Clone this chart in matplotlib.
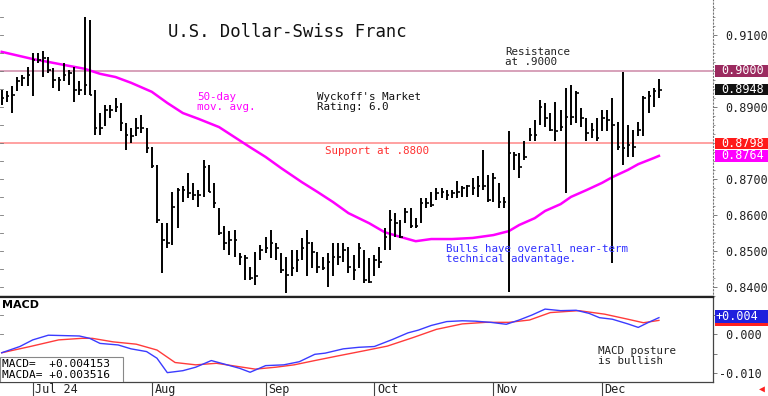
import matplotlib
matplotlib.use("Agg")
import matplotlib.pyplot as plt
import matplotlib.transforms as mtransforms
from matplotlib.patches import Rectangle
import numpy as np
import pandas as pd

plt.rcParams['font.family'] = ['DejaVu Sans Mono', 'DejaVu Sans']

# trading days shown on the chart
dates = pd.bdate_range("2024-06-21", "2024-12-17")

highs = [0.8947, 0.8943, 0.8957, 0.8984, 0.8989, 0.9012, 0.9049, 0.9049, 0.9054, 0.9040,
         0.9008, 0.8984, 0.9021, 0.9003, 0.9012, 0.8971, 0.9151, 0.9142, 0.8947, 0.8883,
         0.8906, 0.8906, 0.8924, 0.8910, 0.8855, 0.8841, 0.8870, 0.8878, 0.8842, 0.8789,
         0.8739, 0.8577, 0.8577, 0.8665, 0.8674, 0.8679, 0.8716, 0.8688, 0.8669, 0.8753,
         0.8739, 0.8688, 0.8618, 0.8568, 0.8554, 0.8558, 0.8493, 0.8489, 0.8456, 0.8498,
         0.8517, 0.8540, 0.8558, 0.8521, 0.8493, 0.8484, 0.8503, 0.8503, 0.8535, 0.8558,
         0.8526, 0.8498, 0.8484, 0.8493, 0.8521, 0.8521, 0.8521, 0.8512, 0.8489, 0.8521,
         0.8503, 0.8479, 0.8489, 0.8512, 0.8563, 0.8614, 0.8604, 0.8586, 0.8618, 0.8618,
         0.8591, 0.8646, 0.8646, 0.8665, 0.8674, 0.8674, 0.8670, 0.8670, 0.8693, 0.8679,
         0.8683, 0.8702, 0.8707, 0.8781, 0.8711, 0.8716, 0.8688, 0.8651, 0.8832, 0.8776,
         0.8771, 0.8804, 0.8841, 0.8864, 0.8919, 0.8910, 0.8882, 0.8915, 0.8892, 0.8952,
         0.8961, 0.8943, 0.8896, 0.8869, 0.8855, 0.8869, 0.8892, 0.8892, 0.8924, 0.8859,
         0.8998, 0.8850, 0.8836, 0.8859, 0.8929, 0.8943, 0.8952, 0.8977]
lows = [0.8906, 0.8915, 0.8883, 0.8943, 0.8957, 0.8957, 0.8929, 0.9021, 0.8984, 0.8994,
        0.8952, 0.8943, 0.8971, 0.8961, 0.8915, 0.8933, 0.8933, 0.8933, 0.8822, 0.8822,
        0.8846, 0.8869, 0.8887, 0.8832, 0.8781, 0.8800, 0.8818, 0.8827, 0.8771, 0.8730,
        0.8577, 0.8438, 0.8507, 0.8517, 0.8563, 0.8637, 0.8646, 0.8641, 0.8623, 0.8651,
        0.8665, 0.8618, 0.8544, 0.8503, 0.8489, 0.8484, 0.8461, 0.8419, 0.8419, 0.8405,
        0.8475, 0.8493, 0.8479, 0.8475, 0.8438, 0.8382, 0.8429, 0.8442, 0.8475, 0.8429,
        0.8452, 0.8438, 0.8447, 0.8401, 0.8429, 0.8461, 0.8470, 0.8438, 0.8419, 0.8452,
        0.8410, 0.8410, 0.8429, 0.8452, 0.8503, 0.8503, 0.8540, 0.8535, 0.8577, 0.8563,
        0.8563, 0.8577, 0.8619, 0.8623, 0.8642, 0.8646, 0.8642, 0.8646, 0.8646, 0.8651,
        0.8651, 0.8656, 0.8651, 0.8670, 0.8637, 0.8637, 0.8619, 0.8619, 0.8387, 0.8725,
        0.8702, 0.8753, 0.8804, 0.8804, 0.8850, 0.8845, 0.8832, 0.8804, 0.8832, 0.8660,
        0.8850, 0.8855, 0.8845, 0.8804, 0.8813, 0.8804, 0.8832, 0.8832, 0.8466, 0.8781,
        0.8739, 0.8762, 0.8762, 0.8818, 0.8818, 0.8882, 0.8901, 0.8924]
closes = [0.8924, 0.8930, 0.8933, 0.8971, 0.8980, 0.8989, 0.9031, 0.9031, 0.9035, 0.9003,
          0.8975, 0.8975, 0.8989, 0.8994, 0.8947, 0.8947, 0.8961, 0.8933, 0.8841, 0.8841,
          0.8892, 0.8892, 0.8901, 0.8855, 0.8822, 0.8818, 0.8841, 0.8841, 0.8785, 0.8735,
          0.8586, 0.8530, 0.8521, 0.8623, 0.8669, 0.8669, 0.8660, 0.8655, 0.8655, 0.8734,
          0.8665, 0.8632, 0.8549, 0.8521, 0.8530, 0.8530, 0.8484, 0.8479, 0.8424, 0.8429,
          0.8503, 0.8507, 0.8521, 0.8507, 0.8447, 0.8433, 0.8452, 0.8475, 0.8507, 0.8521,
          0.8498, 0.8456, 0.8452, 0.8470, 0.8484, 0.8484, 0.8503, 0.8456, 0.8447, 0.8507,
          0.8419, 0.8415, 0.8475, 0.8470, 0.8540, 0.8586, 0.8577, 0.8540, 0.8609, 0.8568,
          0.8568, 0.8632, 0.8632, 0.8628, 0.8660, 0.8665, 0.8656, 0.8660, 0.8665, 0.8674,
          0.8679, 0.8674, 0.8679, 0.8679, 0.8642, 0.8702, 0.8637, 0.8637, 0.8771, 0.8767,
          0.8734, 0.8762, 0.8822, 0.8822, 0.8901, 0.8869, 0.8836, 0.8832, 0.8845, 0.8873,
          0.8873, 0.8938, 0.8869, 0.8827, 0.8836, 0.8813, 0.8869, 0.8864, 0.8850, 0.8790,
          0.8785, 0.8795, 0.8790, 0.8836, 0.8924, 0.8929, 0.8943, 0.8948]

# 50-day moving average at some bars
ma_idx = [0, 6, 9, 13, 16, 19, 22, 25, 29, 32, 35, 38, 42, 45, 48, 51, 54, 58, 61, 64,
          67, 71, 74, 77, 80, 83, 87, 91, 95, 98, 100, 103, 105, 108, 110, 113, 116, 118,
          121, 123, 126, 127]
ma_val = [0.9053, 0.9033, 0.9025, 0.9014, 0.9006, 0.8992, 0.8983, 0.8967, 0.8942, 0.8911,
          0.8883, 0.8867, 0.8844, 0.8816, 0.8788, 0.8761, 0.8730, 0.8691, 0.8664, 0.8636,
          0.8605, 0.8577, 0.8552, 0.8539, 0.8527, 0.8533, 0.8533, 0.8536, 0.8544, 0.8555,
          0.8572, 0.8591, 0.8611, 0.8630, 0.8650, 0.8669, 0.8689, 0.8705, 0.8725, 0.8741,
          0.8758, 0.8764]

macd_idx = [0, 3.5, 6, 9, 12, 15, 17, 19, 22.5, 25, 28, 30, 32, 35, 37.5, 40.5, 43, 46,
            48, 51, 54.5, 57.5, 60.5, 62.5, 66, 69, 72, 75.5, 78.5, 80.5, 83, 86, 89, 91.5,
            94.5, 97.5, 100, 102.5, 105, 108, 111, 113.5, 115.5, 118, 121, 123, 125, 127]
macd_val = [-0.0048, -0.0032, -0.0015, -0.0003, -0.0004, -0.0005, -0.0011, -0.0024,
            -0.0028, -0.0038, -0.0045, -0.0062, -0.0099, -0.0094, -0.0085, -0.0068,
            -0.0077, -0.0088, -0.0098, -0.0081, -0.0079, -0.0071, -0.0052, -0.0049,
            -0.0038, -0.0034, -0.0032, -0.0014, 0.0003, 0.0010, 0.0022, 0.0032, 0.0034,
            0.0033, 0.0030, 0.0025, 0.0036, 0.0049, 0.0064, 0.0060, 0.0061, 0.0053,
            0.0042, 0.0038, 0.0026, 0.0017, 0.0030, 0.0042]
macda_idx = [0, 5.5, 11, 15.5, 17.5, 21.5, 26, 30, 33.5, 37.5, 41.5, 45, 49, 53, 56.5,
             60.5, 65, 70, 74.5, 79.5, 84, 89, 93.5, 98, 102, 106, 111.5, 116.5, 121, 124, 127]
macda_val = [-0.0048, -0.0032, -0.0015, -0.0011, -0.0011, -0.0020, -0.0026, -0.0041,
             -0.0073, -0.0079, -0.0075, -0.0082, -0.0090, -0.0085, -0.0079, -0.0068,
             -0.0056, -0.0043, -0.0031, -0.0009, 0.0012, 0.0026, 0.0030, 0.0030, 0.0036,
             0.0055, 0.0060, 0.0051, 0.0038, 0.0029, 0.0035]

resistance = 0.9000
support = 0.8800
support_last = 0.8798
price_last = 0.8948
ma_last = 0.8764
macd_last = 0.004153
macda_last = 0.003516

price_ticks = [0.84, 0.85, 0.86, 0.87, 0.89, 0.91]
macd_ticks = [0.0, -0.010]
month_labels = ["Jul 24", "Aug", "Sep", "Oct", "Nov", "Dec"]
month_pos = [i for i in range(1, len(dates)) if dates[i].month != dates[i - 1].month]

fig = plt.figure(figsize=(7.68, 3.96), dpi=100)
ax = fig.add_axes([0, 0.25, 0.9284, 0.75])
ax2 = fig.add_axes([0, 14 / 396, 0.9284, 85 / 396])

x = np.arange(len(closes))
xlim = (-0.33, 137.45)

# ---- price panel
ax.axhline(resistance, color='#d49ab4', lw=1.3, zorder=1)
ax.axhline(support, color='#ff9a9a', lw=1.3, zorder=1)
ax.vlines(x, lows, highs, color='black', lw=1.4, zorder=3)
ax.hlines(closes, x, x + 0.5, color='black', lw=1.2, zorder=3)
ax.plot(ma_idx, ma_val, color='#ff00ff', lw=1.8, zorder=2)

ax.set_xlim(*xlim)
ax.set_ylim(0.8372, 0.9197)
ax.set_xticks([])
ax.yaxis.tick_right()
ax.set_yticks(price_ticks)
ax.set_yticklabels(["%.4f" % v for v in price_ticks], fontsize=8.5, color='#222222')
ax.set_yticks(np.arange(0.8375, 0.9196, 0.0025), minor=True)
ax.tick_params(axis='y', which='major', length=3, width=0.6, pad=6, colors='#666666',
               labelcolor='#222222')
ax.tick_params(axis='y', which='minor', length=1.5, width=0.6, colors='#888888')
for s in ['top', 'left']:
    ax.spines[s].set_visible(False)
ax.spines['right'].set_linestyle((0, (1, 2)))
ax.spines['right'].set_color('#777777')
ax.spines['bottom'].set_linewidth(1.6)
ax.spines['bottom'].set_color('#222222')

# short ticks on the left edge
for v in np.arange(0.840, 0.919, 0.005):
    ax.plot([xlim[0], xlim[0] + 0.5], [v, v], color='#777777', lw=0.6, clip_on=False)

trans = mtransforms.blended_transform_factory(ax.transAxes, ax.transData)
for val, txt, col in [(resistance, "0.9000", '#9b2a5f'), (price_last, "0.8948", '#111111'),
                      (support_last, "0.8798", '#ff1a1a'), (ma_last, "0.8764", '#ff00ff')]:
    ax.add_patch(Rectangle((1.003, val - 0.00158), 0.075, 0.00316, transform=trans,
                           facecolor=col, edgecolor='none', clip_on=False, zorder=5))
    ax.text(1.011, val, txt, transform=trans, color='white', fontsize=8.5,
            va='center', ha='left', zorder=6, clip_on=False)

ax.text(0.2356, 0.892, "U.S. Dollar-Swiss Franc", transform=ax.transAxes,
        fontsize=12.4, va='center', ha='left', color='#111111')
ax.text(0.7083, 0.8064, "Resistance\nat .9000", transform=ax.transAxes,
        fontsize=7.8, va='center', ha='left', color='#222222', linespacing=1.0)
ax.text(0.2763, 0.6582, "50-day\nmov. avg.", transform=ax.transAxes,
        fontsize=7.8, va='center', ha='left', color='#ff00ff', linespacing=1.0)
ax.text(0.4446, 0.6549, "Wyckoff's Market\nRating: 6.0", transform=ax.transAxes,
        fontsize=7.8, va='center', ha='left', color='#111111', linespacing=1.0)
ax.text(0.4558, 0.4916, "Support at .8800", transform=ax.transAxes,
        fontsize=7.8, va='center', ha='left', color='#ff3030')
ax.text(0.6255, 0.1431, "Bulls have overall near-term\ntechnical advantage.",
        transform=ax.transAxes, fontsize=7.8, va='center', ha='left', color='#3030ff',
        linespacing=1.0)

# ---- MACD panel
ax2.plot(macda_idx, macda_val, color='#ff3b3b', lw=1.0)
ax2.plot(macd_idx, macd_val, color='#3b3bff', lw=1.0)
ax2.set_xlim(*xlim)
ax2.set_ylim(-0.0123, 0.0095)
ax2.yaxis.tick_right()
ax2.set_yticks(macd_ticks)
ax2.set_yticklabels([" 0.000", "-0.010"], fontsize=8.5)
ax2.set_yticks([0.005, -0.005], minor=True)
ax2.tick_params(axis='y', which='both', length=3, width=0.6, pad=1, colors='#666666',
                labelcolor='#222222')
ax2.spines['left'].set_visible(False)
ax2.spines['top'].set_linewidth(1.6)
ax2.spines['top'].set_color('#222222')
for s in ['right', 'bottom']:
    ax2.spines[s].set_color('#444444')
    ax2.spines[s].set_linewidth(0.9)

ax2.set_xticks(month_pos)
ax2.set_xticklabels([])
ax2.tick_params(axis='x', length=10, width=0.8, colors='#444444', direction='out')
tb = mtransforms.blended_transform_factory(ax2.transData, ax2.transAxes)
for p, lab in zip(month_pos, month_labels):
    ax2.text(p + 0.5, -0.085, lab, transform=tb, fontsize=8.5, va='center', ha='left',
             color='#222222', clip_on=False)

for v in [0.005, 0.0]:
    ax2.plot([xlim[0], xlim[0] + 0.5], [v, v], color='#777777', lw=0.6, clip_on=False)

trans2 = mtransforms.blended_transform_factory(ax2.transAxes, ax2.transData)
ax2.add_patch(Rectangle((1.003, macda_last - 0.0015), 0.075, 0.0011, transform=trans2,
                        facecolor='#ff2020', edgecolor='none', clip_on=False, zorder=5))
ax2.add_patch(Rectangle((1.003, macd_last - 0.0013), 0.075, 0.0033, transform=trans2,
                        facecolor='#2020dd', edgecolor='none', clip_on=False, zorder=6))
ax2.text(1.003, macd_last + 0.0003, "%+.3f" % macd_last, transform=trans2, color='white',
         fontsize=8.5, va='center', ha='left', zorder=7, clip_on=False)

ax2.text(0.003, 0.906, "MACD", transform=ax2.transAxes, fontsize=8, fontweight='bold',
         family='DejaVu Sans', va='center', ha='left')
ax2.add_patch(Rectangle((0, 0), 0.1725, 0.294, transform=ax2.transAxes,
                        facecolor='white', edgecolor='#888888', lw=0.8, zorder=4))
ax2.text(0.003, 0.147, "MACD=  %+.6f\nMACDA= %+.6f" % (macd_last, macda_last),
         transform=ax2.transAxes, fontsize=8, va='center', ha='left', zorder=5,
         linespacing=1.05)
ax2.text(0.8387, 0.30, "MACD posture\nis bullish", transform=ax2.transAxes,
         fontsize=7.8, va='center', ha='left', color='#222222', linespacing=1.0)

fig.text(0.992, 0.018, u"\u25C0", color='#ff2020', fontsize=7, ha='center', va='center')

fig.savefig('out.png', dpi=100)
